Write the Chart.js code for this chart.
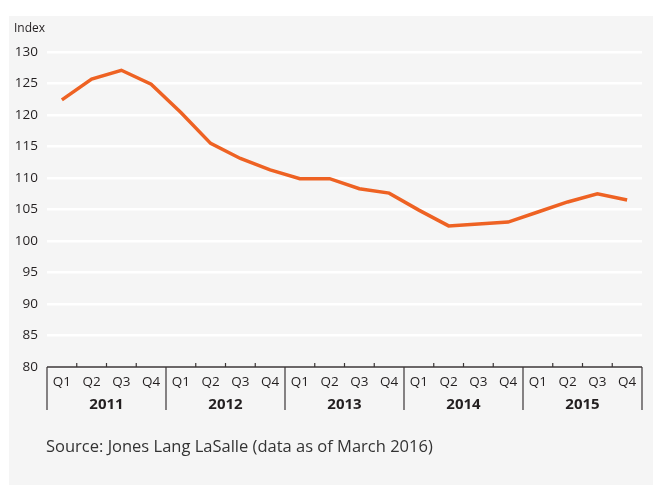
<!DOCTYPE html>
<html>
<head>
<meta charset="utf-8">
<script src="https://cdn.jsdelivr.net/npm/chart.js@4/dist/chart.umd.min.js"></script>
<style>
  html, body { margin: 0; padding: 0; background: #ffffff; }
  #wrap { width: 653px; height: 485px; position: relative; }
</style>
</head>
<body>
<div id="wrap"><canvas id="indexChart" width="653" height="485"></canvas></div>
<script>
const years = ['2011', '2012', '2013', '2014', '2015'];
const quarters = ['Q1', 'Q2', 'Q3', 'Q4'];
const indexValues = [
    122.4, 125.7, 127.1, 124.9,   // 2011
    120.4, 115.5, 113.1, 111.3,   // 2012
    109.9, 109.9, 108.3, 107.6,   // 2013
    104.9, 102.4, 102.7, 103.0,   // 2014
    104.6, 106.2, 107.5, 106.5    // 2015
];
const yTicks = [80, 85, 90, 95, 100, 105, 110, 115, 120, 125, 130];

const labels = [];
years.forEach(y => quarters.forEach(q => labels.push(y + ' ' + q)));

const FONT = '"Open Sans", "Noto Sans", sans-serif';
const TEXT = '#231f20';

// grey panel, the quarter/year axis and the captions
const decorations = {
    id: 'decorations',
    beforeDraw(chart) {
        const c = chart.ctx;
        c.save();
        c.fillStyle = '#f5f5f5';
        c.fillRect(9, 16, chart.width - 9, chart.height - 16);
        c.restore();
    },
    afterDraw(chart) {
        const c = chart.ctx;
        const x = chart.scales.x;
        const area = chart.chartArea;
        const base = area.bottom;
        const step = x.getPixelForValue(1) - x.getPixelForValue(0);
        c.save();
        c.strokeStyle = '#3a3536';
        c.lineWidth = 1.5;
        c.beginPath();
        c.moveTo(area.left, base);
        c.lineTo(area.right, base);
        c.stroke();

        c.lineWidth = 1.2;
        for (let i = 0; i <= labels.length; i++) {
            const px = x.getPixelForValue(i) - step / 2;
            c.beginPath();
            if (i % 4 === 0) {
                c.moveTo(px, base);
                c.lineTo(px, base + 43);
            } else {
                c.moveTo(px, base);
                c.lineTo(px, base - 4);
            }
            c.stroke();
        }

        c.fillStyle = TEXT;
        c.textAlign = 'center';
        c.textBaseline = 'middle';
        c.font = '13.5px ' + FONT;
        labels.forEach((lab, i) => {
            c.fillText(quarters[i % 4], x.getPixelForValue(i), base + 15);
        });
        c.font = 'bold 15px ' + FONT;
        years.forEach((y, j) => {
            const mid = (x.getPixelForValue(j * 4) + x.getPixelForValue(j * 4 + 3)) / 2;
            c.fillText(y, mid, base + 38);
        });

        c.textAlign = 'left';
        c.font = '12px ' + FONT;
        c.fillText('Index', 14, 29);
        c.font = '16.5px ' + FONT;
        c.fillStyle = '#333333';
        c.fillText('Source: Jones Lang LaSalle (data as of March 2016)', 46, 447);
        c.restore();
    }
};

const ctx = document.getElementById('indexChart').getContext('2d');
new Chart(ctx, {
    type: 'line',
    data: {
        labels: labels,
        datasets: [{
            label: 'Index',
            data: indexValues,
            borderColor: '#ee6223',
            borderWidth: 3.5,
            pointRadius: 0,
            tension: 0,
            fill: false
        }]
    },
    options: {
        responsive: false,
        animation: false,
        layout: { padding: { top: 52, right: 11, bottom: 0, left: 0 } },
        scales: {
            x: {
                type: 'category',
                offset: true,
                grid: { display: false },
                border: { display: false },
                ticks: { display: false },
                afterFit(scale) { scale.height = 118; }
            },
            y: {
                min: 80,
                max: 130,
                afterBuildTicks(scale) { scale.ticks = yTicks.map(v => ({ value: v })); },
                grid: { color: '#ffffff', lineWidth: 2.5, drawTicks: false },
                border: { display: false },
                ticks: {
                    color: TEXT,
                    padding: 9,
                    font: { family: FONT, size: 13.5 }
                },
                afterFit(scale) { scale.width = 47; }
            }
        },
        plugins: {
            legend: { display: false },
            tooltip: { enabled: false }
        }
    },
    plugins: [decorations]
});
</script>
</body>
</html>
